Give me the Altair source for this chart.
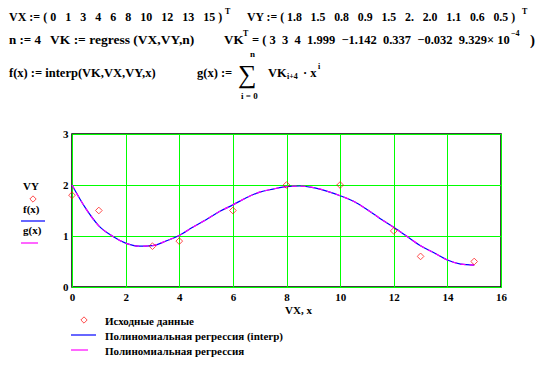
import altair as alt
import pandas as pd

# ---- data ----
VX = [0, 1, 3, 4, 6, 8, 10, 12, 13, 15]
VY = [1.8, 1.5, 0.8, 0.9, 1.5, 2.0, 2.0, 1.1, 0.6, 0.5]

curve_x = [0, 0.5, 1, 1.5, 2, 2.5, 3, 3.5, 4, 4.5, 5, 5.5, 6, 6.5, 7, 7.5,
           8, 8.5, 9, 9.5, 10, 10.5, 11, 11.5, 12, 12.5, 13, 13.5, 14, 14.5, 15]
f_y = [2.0, 1.55, 1.20, 1.0, 0.86, 0.80, 0.81, 0.90, 1.01, 1.17, 1.32, 1.48, 1.61, 1.75, 1.86, 1.92,
       1.97, 1.98, 1.95, 1.88, 1.79, 1.68, 1.52, 1.34, 1.17, 0.99, 0.81, 0.67, 0.53, 0.45, 0.43]
g_y = [2.0, 1.55, 1.20, 1.0, 0.86, 0.80, 0.81, 0.90, 1.01, 1.17, 1.32, 1.48, 1.61, 1.75, 1.86, 1.92,
       1.97, 1.98, 1.95, 1.88, 1.79, 1.68, 1.52, 1.34, 1.17, 0.99, 0.81, 0.67, 0.53, 0.45, 0.43]

x_ticks = [0, 2, 4, 6, 8, 10, 12, 14, 16]
y_ticks = [0, 1, 2, 3]

legend_labels = ["Исходные данные", "Полиномиальная регрессия (interp)", "Полиномиальная регрессия"]

FONT = "'Liberation Serif', 'Times New Roman', serif"
W, H = 429, 153
OX, OY = 72, 134  # page position of plot origin
S = "\u00a0"  # non-breaking space
S2 = S * 2
S3 = S * 3

vx_txt = "VX := ( 0" + S3 + "1" + S3 + "3" + S3 + "4" + S3 + "6" + S3 + "8" + S3 + "10" + S3 + "12" + S3 + "13" + S3 + "15 )"
vy_txt = "VY := ( 1.8" + S3 + "1.5" + S3 + "0.8" + S3 + "0.9" + S3 + "1.5" + S3 + "2." + S3 + "2.0" + S3 + "1.1" + S3 + "0.6" + S3 + "0.5 )"
vk_txt = "= ( 3" + S2 + "3" + S2 + "4" + S2 + "1.999" + S2 + "\u22121.142" + S2 + "0.337" + S2 + "\u22120.032" + S2 + "9.329\u00d7" + S + "10"

# annotation texts (page coordinates): x, y, text, size
notes = [
    (9, 17, vx_txt, 12),
    (225, 12, "T", 8),
    (247, 17, vy_txt, 11.8),
    (522, 12, "T", 8),
    (9, 40, "n := 4", 13),
    (50, 40, "VK := regress (VX,VY,n)", 13.5),
    (224, 40, "VK", 13),
    (243, 34, "T", 8),
    (252, 40, vk_txt, 12.5),
    (511, 34, "\u22124", 8),
    (530, 40, ")", 15),
    (9, 73, "f(x) := interp(VK,VX,VY,x)", 12.5),
    (197, 73, "g(x) :=", 12.5),
    (250, 54, "n", 9),
    (241, 96, "i = 0", 9),
    (268, 73, "VK", 12.5),
    (287, 77, "i+4", 8),
    (303, 73, "\u00b7" + S + "x", 12.5),
    (318, 67, "i", 8),
    (105, 322, legend_labels[0], 11),
    (105, 337, legend_labels[1], 11),
    (105, 352, legend_labels[2], 11),
    (285, 311, "VX, x", 11),
    (23, 187, "VY", 11),
    (23, 210, "f(x)", 11),
    (23, 231, "g(x)", 11),
]
notes_df = pd.DataFrame(notes, columns=["px", "py", "text", "size"])
notes_df["mx"] = notes_df["px"] - OX
notes_df["my"] = notes_df["py"] - OY

pts = pd.DataFrame({"x": VX, "y": VY})
curves = pd.DataFrame({"x": curve_x, "f": f_y, "g": g_y})

xscale = alt.Scale(domain=[0, 16], nice=False)
yscale = alt.Scale(domain=[0, 3], nice=False)

xaxis = alt.Axis(values=x_ticks, grid=True, gridColor="#00ff00", gridOpacity=1, gridWidth=1,
                 ticks=False, domain=False, labelFont=FONT, labelFontWeight="bold",
                 labelFontSize=11, labelColor="black", labelPadding=4, title=None,
                 labelFlush=False)
yaxis = alt.Axis(values=y_ticks, grid=True, gridColor="#00ff00", gridOpacity=1, gridWidth=1,
                 ticks=False, domain=False, labelFont=FONT, labelFontWeight="bold",
                 labelFontSize=11, labelColor="black", labelPadding=4, title=None,
                 labelFlush=False)

f_line = alt.Chart(curves).mark_line(color="#0000ff", strokeWidth=1.2, interpolate="monotone").encode(
    x=alt.X("x:Q", scale=xscale, axis=xaxis),
    y=alt.Y("f:Q", scale=yscale, axis=yaxis),
)
g_line = alt.Chart(curves).mark_line(color="#ff00ff", strokeWidth=1.2, interpolate="monotone",
                                     strokeDash=[5, 4]).encode(
    x=alt.X("x:Q", scale=xscale),
    y=alt.Y("g:Q", scale=yscale),
)
points = alt.Chart(pts).mark_point(shape="diamond", color="#ff0000", filled=False, size=45,
                                   strokeWidth=1).encode(
    x=alt.X("x:Q", scale=xscale),
    y=alt.Y("y:Q", scale=yscale),
)

texts = alt.Chart(notes_df).mark_text(font=FONT, fontWeight="bold", align="left",
                                      baseline="middle", color="black").encode(
    x=alt.X("mx:Q", scale=None),
    y=alt.Y("my:Q", scale=None),
    text="text:N",
    size=alt.Size("size:Q", scale=None),
)
sigma = alt.Chart(pd.DataFrame({"t": ["\u2211"]})).mark_text(
    font=FONT, fontSize=26, align="left", baseline="middle", color="black").encode(
    x=alt.value(238 - OX), y=alt.value(75 - OY), text="t:N")

# legend decorations
leg_pt1 = alt.Chart(pd.DataFrame({"k": [0]})).mark_point(
    shape="diamond", color="#ff0000", filled=False, size=40, strokeWidth=1).encode(
    x=alt.value(84 - OX), y=alt.value(320 - OY))
leg_pt2 = alt.Chart(pd.DataFrame({"k": [0]})).mark_point(
    shape="diamond", color="#ff0000", filled=False, size=40, strokeWidth=1).encode(
    x=alt.value(33 - OX), y=alt.value(199 - OY))
leg_l1 = alt.Chart(pd.DataFrame({"k": [0]})).mark_rule(color="#0000ff", strokeWidth=1.2).encode(
    x=alt.value(71 - OX), x2=alt.value(96 - OX), y=alt.value(335 - OY))
leg_l2 = alt.Chart(pd.DataFrame({"k": [0]})).mark_rule(color="#ff00ff", strokeWidth=1.2).encode(
    x=alt.value(71 - OX), x2=alt.value(88 - OX), y=alt.value(350 - OY))
leg_l3 = alt.Chart(pd.DataFrame({"k": [0]})).mark_rule(color="#0000ff", strokeWidth=1.2).encode(
    x=alt.value(21 - OX), x2=alt.value(45 - OX), y=alt.value(221 - OY))
leg_l4 = alt.Chart(pd.DataFrame({"k": [0]})).mark_rule(color="#ff00ff", strokeWidth=1.2).encode(
    x=alt.value(21 - OX), x2=alt.value(38 - OX), y=alt.value(243 - OY))

chart = alt.layer(
    f_line, g_line, points, texts, sigma,
    leg_pt1, leg_pt2, leg_l1, leg_l2, leg_l3, leg_l4,
).properties(
    width=W, height=H,
    autosize=alt.AutoSizeParams(type="none"),
    padding={"left": 64, "top": 126, "right": 50, "bottom": 71},
    background="white",
).configure_view(
    stroke="black", strokeWidth=1.5,
)

chart.save("out.html", embed_options={"renderer": "svg", "actions": False})
